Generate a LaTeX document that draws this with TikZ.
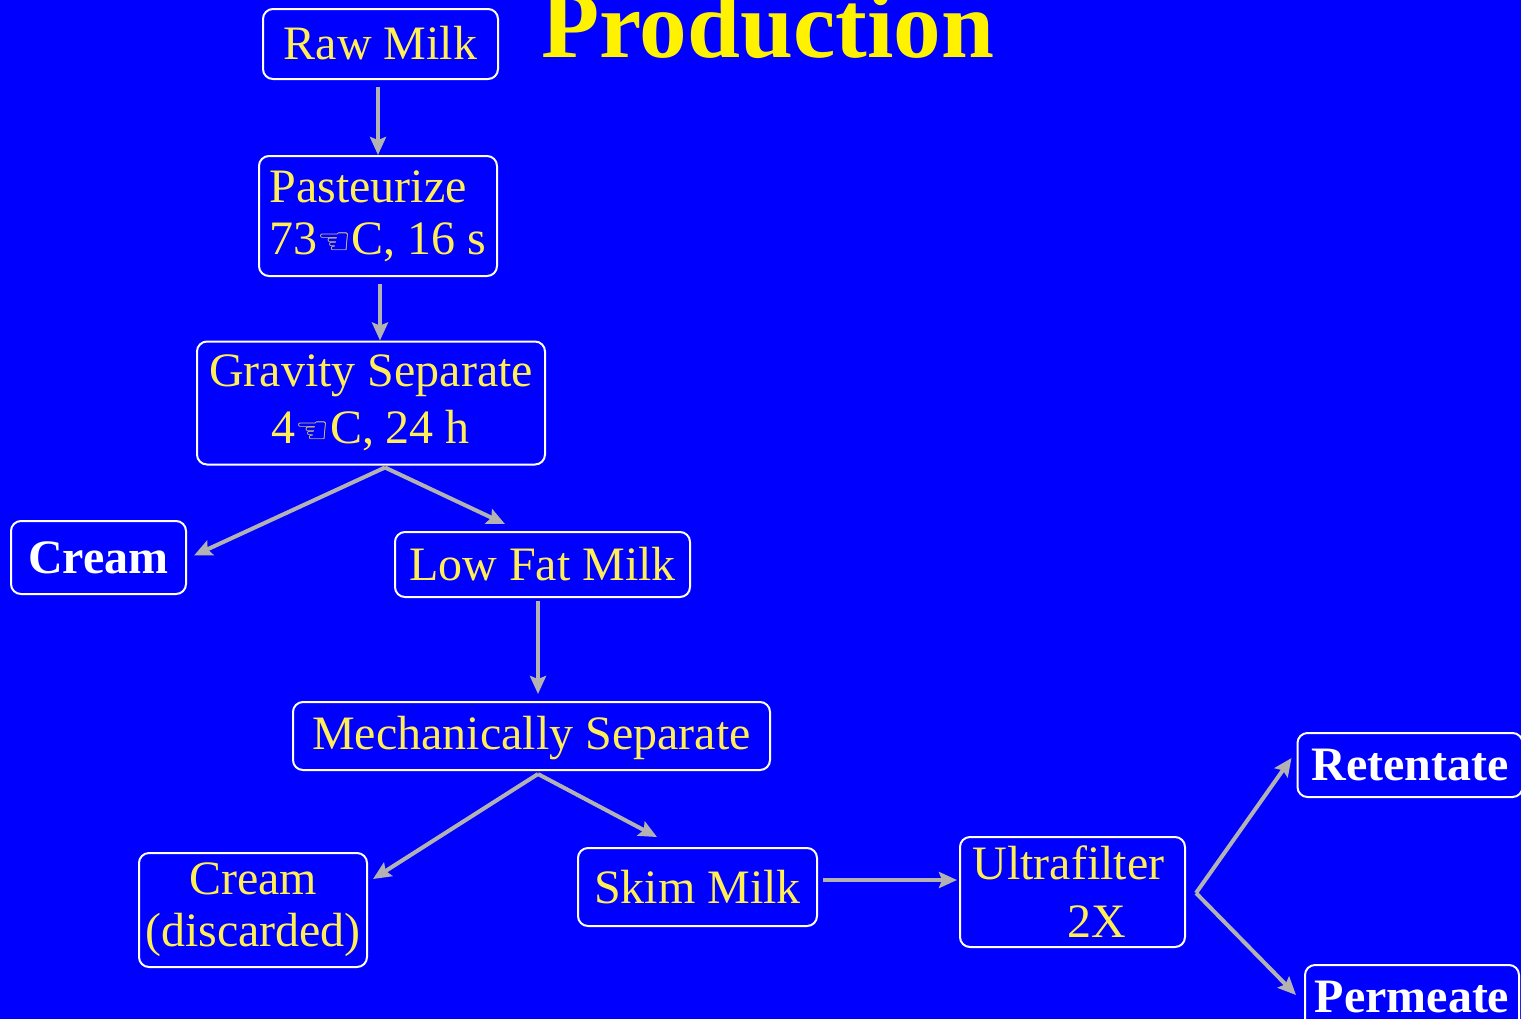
\documentclass[tikz,border=0pt]{standalone}
\usepackage{fontspec}
\setmainfont{Liberation Serif}
\newfontfamily\handfont{DejaVu Sans}
\usetikzlibrary{arrows.meta}
\definecolor{slideblue}{RGB}{0,0,255}
\definecolor{boxyellow}{RGB}{255,238,85}
\definecolor{arrowgray}{RGB}{178,178,178}
\newcommand{\hand}{{\handfont\fontsize{19}{19}\selectfont ☜}}

\begin{document}
\begin{tikzpicture}[x=0.5pt, y=-0.5pt,
	stage/.style={draw=white, line width=1pt, rounded corners=5pt, text=boxyellow, inner sep=0pt, font=\fontsize{24}{26}\selectfont},
	outcome/.style={stage, text=white, font=\fontsize{24}{26}\selectfont\bfseries},
	flow/.style={draw=arrowgray, line width=2pt, -{Stealth[length=9pt,width=8pt,inset=1.5pt]}}]
				\useasboundingbox (0,0) rectangle (1521,1019);
				\fill [slideblue] (0,0) rectangle (1521,1019);
				\clip (0,0) rectangle (1521,1019);
				\node [anchor=base west, text=yellow, font=\fontsize{47.6}{50}\selectfont\bfseries] (title) at (534,57) {Production};
				% process steps
				\node [stage, minimum width=117.5pt, minimum height=35pt, text depth=1pt] (raw) at (380.5,44) {Raw Milk};
				\node [stage, minimum width=119pt, minimum height=60pt, align=left] (past) at (378,216) {Pasteurize\\73\hand C, 16 s};
				\node [stage, minimum width=174pt, minimum height=61.5pt, align=center, font=\fontsize{24}{28.5}\selectfont] (grav) at (371,403) {Gravity Separate\\4\hand C, 24 h};
				\node [outcome, minimum width=87.5pt, minimum height=36.5pt] (cream) at (98.5,557.5) {Cream};
				\node [stage, minimum width=147.5pt, minimum height=32.5pt] (lowfat) at (542.5,564.5) {Low Fat Milk};
				\node [stage, minimum width=238.5pt, minimum height=34pt, text depth=3pt] (mech) at (531.5,736) {Mechanically Separate};
				\node [stage, minimum width=114pt, minimum height=57pt, align=center] (creamd) at (253,910) {Cream\\(discarded)};
				\node [stage, minimum width=119.5pt, minimum height=39pt] (skim) at (697.5,887) {Skim Milk};
				\node [stage, minimum width=112.5pt, minimum height=55pt, align=left, font=\fontsize{24}{29}\selectfont] (ultra) at (1072.5,892) {Ultrafilter\hspace*{4pt}\\\hspace*{47.5pt}2X};
				\node [outcome, minimum width=112.5pt, minimum height=32pt] (ret) at (1410,765) {Retentate};
				\node [outcome, minimum width=107pt, minimum height=32pt] (perm) at (1412,997) {Permeate};
				% arrows
				\draw [flow, shorten <=3.5pt] (raw.south -| past.north) -- (past.north);
				\draw [flow, shorten <=3.5pt] ([shift={(2,0)}]past.south) -- ([shift={(9,0)}]grav.north);
				\draw [flow] ([shift={(14,2)}]grav.south) -- ([shift={(7,-2)}]cream.east);
				\draw [flow] ([shift={(14,2)}]grav.south) -- ([shift={(-37.5,-7)}]lowfat.north);
				\draw [flow] ([shift={(-4.5,3)}]lowfat.south) -- ([shift={(6.5,-7)}]mech.north);
				\draw [flow] ([shift={(6.5,3)}]mech.south) -- ([shift={(5,-31)}]creamd.east);
				\draw [flow] ([shift={(6.5,3)}]mech.south) -- ([shift={(-40.5,-10)}]skim.north);
				\draw [flow, shorten >=3.5pt] ([shift={(5,-7)}]skim.east) -- ([shift={(5,-7)}]skim.east -| ultra.west);
				\draw [flow] ([shift={(10,1)}]ultra.east) -- ([shift={(-5,-7)}]ret.west);
				\draw [flow] ([shift={(10,1)}]ultra.east) -- ([shift={(-8,-2)}]perm.west);
			\end{tikzpicture}
\end{document}
